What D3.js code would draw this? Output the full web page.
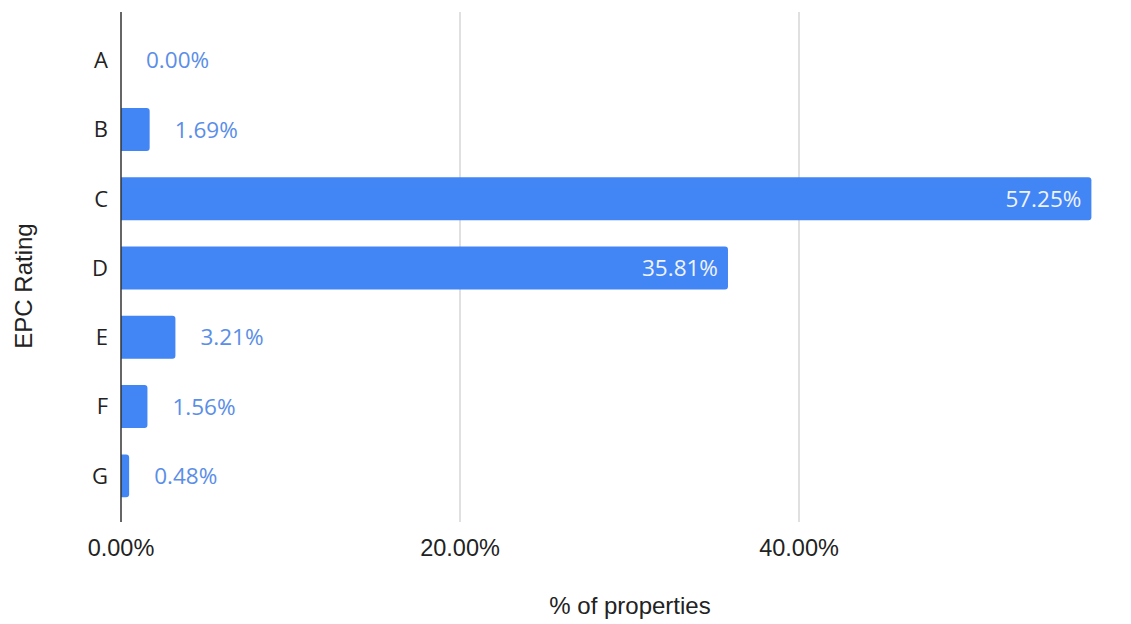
<!DOCTYPE html>
<html>
<head>
<meta charset="utf-8">
<script src="https://cdn.jsdelivr.net/npm/d3@7"></script>
<style>
  body { margin: 0; background: #fff; }
  text { font-family: "Liberation Sans", Arial, sans-serif; }
  text.val, text.cat { font-family: "Open Sans", Roboto, sans-serif; }
</style>
</head>
<body>
<div id="chart"></div>
<script>
// EPC rating share of properties
const ratings = ["A", "B", "C", "D", "E", "F", "G"];
const shares = [0.0, 1.69, 57.25, 35.81, 3.21, 1.56, 0.48];
const xTicks = [0, 20, 40];

const width = 1131, height = 624;
const plotLeft = 121, plotTop = 12, plotBottom = 522;

const svg = d3.select("#chart").append("svg")
    .attr("width", width)
    .attr("height", height);

const x = d3.scaleLinear().domain([0, 60]).range([plotLeft, plotLeft + 1017]);
const y = d3.scaleBand().domain(ratings).range([25.5, 510.5])
    .paddingInner(0.38).paddingOuter(0.19);

// gridlines
svg.selectAll("line.grid")
   .data(xTicks.filter(d => d > 0))
   .enter().append("line")
   .attr("class", "grid")
   .attr("x1", d => x(d)).attr("x2", d => x(d))
   .attr("y1", plotTop).attr("y2", plotBottom)
   .attr("stroke", "#cccccc")
   .attr("stroke-width", 1.2);

// tick labels
svg.selectAll("text.xtick")
   .data(xTicks)
   .enter().append("text")
   .attr("class", "xtick")
   .attr("x", d => x(d))
   .attr("y", 556)
   .attr("text-anchor", "middle")
   .attr("font-size", 23.5)
   .attr("fill", "#222")
   .text(d => d.toFixed(2) + "%");

const rows = ratings.map((k, i) => ({ k: k, v: shares[i] }));

// bars, rounded on the right end
const r = 3;
svg.selectAll("path.bar")
   .data(rows.filter(d => d.v > 0))
   .enter().append("path")
   .attr("class", "bar")
   .attr("fill", "#4285f4")
   .attr("d", function(d) {
       const x0 = x(0), x1 = x(d.v), y0 = y(d.k), h = y.bandwidth();
       const rr = Math.min(r, (x1 - x0) / 2);
       return "M" + x0 + "," + y0 +
              "H" + (x1 - rr) +
              "Q" + x1 + "," + y0 + " " + x1 + "," + (y0 + rr) +
              "V" + (y0 + h - rr) +
              "Q" + x1 + "," + (y0 + h) + " " + (x1 - rr) + "," + (y0 + h) +
              "H" + x0 + "Z";
   });

// data labels
svg.selectAll("text.val")
   .data(rows)
   .enter().append("text")
   .attr("class", "val")
   .attr("x", d => d.v > 30 ? x(d.v) - 10 : x(d.v) + 25)
   .attr("y", d => y(d.k) + y.bandwidth() / 2)
   .attr("dy", "0.36em")
   .attr("text-anchor", d => d.v > 30 ? "end" : "start")
   .attr("font-size", 22.5)
   .attr("fill", d => d.v > 30 ? "#eef3fe" : "#5a8ee8")
   .text(d => d.v.toFixed(2) + "%");

// category labels
svg.selectAll("text.cat")
   .data(ratings)
   .enter().append("text")
   .attr("class", "cat")
   .attr("x", 108)
   .attr("y", d => y(d) + y.bandwidth() / 2)
   .attr("dy", "0.36em")
   .attr("text-anchor", "end")
   .attr("font-size", 22)
   .attr("fill", "#222")
   .text(d => d);

// axis line
svg.append("line")
   .attr("x1", plotLeft).attr("x2", plotLeft)
   .attr("y1", plotTop).attr("y2", plotBottom)
   .attr("stroke", "#333")
   .attr("stroke-width", 1.5);

// axis titles
svg.append("text")
   .attr("x", 630).attr("y", 614)
   .attr("text-anchor", "middle")
   .attr("font-size", 24)
   .attr("fill", "#222")
   .text("% of properties");

svg.append("text")
   .attr("transform", "translate(32,286) rotate(-90)")
   .attr("text-anchor", "middle")
   .attr("font-size", 24)
   .attr("fill", "#222")
   .text("EPC Rating");
</script>
</body>
</html>
